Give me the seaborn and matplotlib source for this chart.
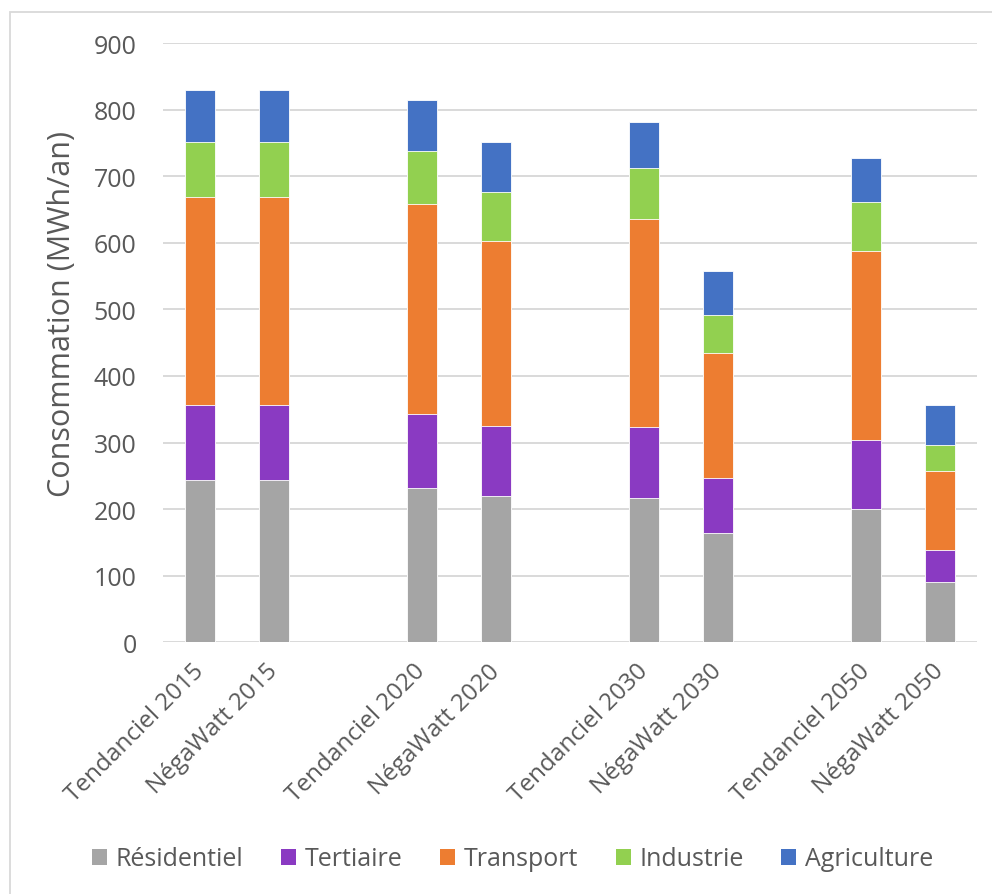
import matplotlib
matplotlib.use("Agg")
from matplotlib import pyplot as plt
from matplotlib.patches import Patch, Rectangle
import seaborn as sns
import pandas as pd

# scenario labels (blank slots give the gap between year pairs)
scenarios = ["Tendanciel 2015", "NégaWatt 2015", "Tendanciel 2020", "NégaWatt 2020",
             "Tendanciel 2030", "NégaWatt 2030", "Tendanciel 2050", "NégaWatt 2050"]
slots = ["Tendanciel 2015", "NégaWatt 2015", " ",
         "Tendanciel 2020", "NégaWatt 2020", "  ",
         "Tendanciel 2030", "NégaWatt 2030", "   ",
         "Tendanciel 2050", "NégaWatt 2050"]

sectors = ["Résidentiel", "Tertiaire", "Transport", "Industrie", "Agriculture"]
residentiel = [244, 244, 232, 220, 217, 164, 200, 90]
tertiaire = [113, 113, 111, 105, 107, 82, 104, 49]
transport = [312, 312, 315, 278, 311, 188, 284, 118]
industrie = [82, 82, 80, 73, 77, 57, 73, 39]
agriculture = [78, 78, 77, 75, 69, 66, 66, 61]
colors = ["#A5A5A5", "#8A3AC2", "#ED7D31", "#92D050", "#4472C4"]

df = pd.DataFrame({"scenario": scenarios, "Résidentiel": residentiel,
                   "Tertiaire": tertiaire, "Transport": transport,
                   "Industrie": industrie, "Agriculture": agriculture})
cum = df[sectors].cumsum(axis=1)
cum["scenario"] = df["scenario"]

sns.set_style("white")
plt.rcParams["font.family"] = ["Open Sans", "DejaVu Sans"]
text_col = "#595959"

fig = plt.figure(figsize=(9.92, 8.95), dpi=100)
ax = fig.add_axes([163 / 992, 1 - 643.3 / 895, 814 / 992, 599.3 / 895])

# stacked bars: draw the cumulative totals from top layer down
for sector, col in reversed(list(zip(sectors, colors))):
    sns.barplot(data=cum, x="scenario", y=sector, order=slots, color=col,
                width=0.4, edgecolor="white", linewidth=0.6, saturation=1,
                ax=ax, zorder=3)

ax.set_ylim(0, 900)
ax.set_xlim(-0.5, len(slots) - 0.5)
ax.set_yticks(range(0, 901, 100))
ax.yaxis.grid(True, color="#D9D9D9", linewidth=1.4, zorder=0)
ax.set_axisbelow(True)
for s in ax.spines.values():
    s.set_visible(False)

ax.tick_params(axis="both", length=0, labelsize=18, labelcolor=text_col)
ax.tick_params(axis="y", pad=19)
ax.set_xticks(range(len(slots)))
ax.set_xticklabels([s.strip() for s in slots], rotation=45, ha="right",
                   va="center", rotation_mode="anchor", fontsize=17.5)
ax.tick_params(axis="x", pad=18)

ax.set_xlabel("")
ax.set_ylabel("Consommation (MWh/an)", fontsize=22, color=text_col)
ax.yaxis.set_label_coords(-0.106, 0.55)

handles = [Patch(facecolor=c, edgecolor="none", label=s) for s, c in zip(sectors, colors)]
leg = fig.legend(handles=handles, loc="center", bbox_to_anchor=(0.517, 1 - 860 / 895),
                 ncol=5, frameon=False, fontsize=18, handlelength=0.6,
                 handleheight=0.6, handletextpad=0.35, columnspacing=1.5)
for t in leg.get_texts():
    t.set_color(text_col)

# chart area border
fig.patches.append(Rectangle((10 / 992, -0.05), 1.1, 1 - 13 / 895 + 0.05,
                             transform=fig.transFigure, fill=False,
                             edgecolor="#D9D9D9", linewidth=1.3))

fig.savefig("out.png", dpi=100)
